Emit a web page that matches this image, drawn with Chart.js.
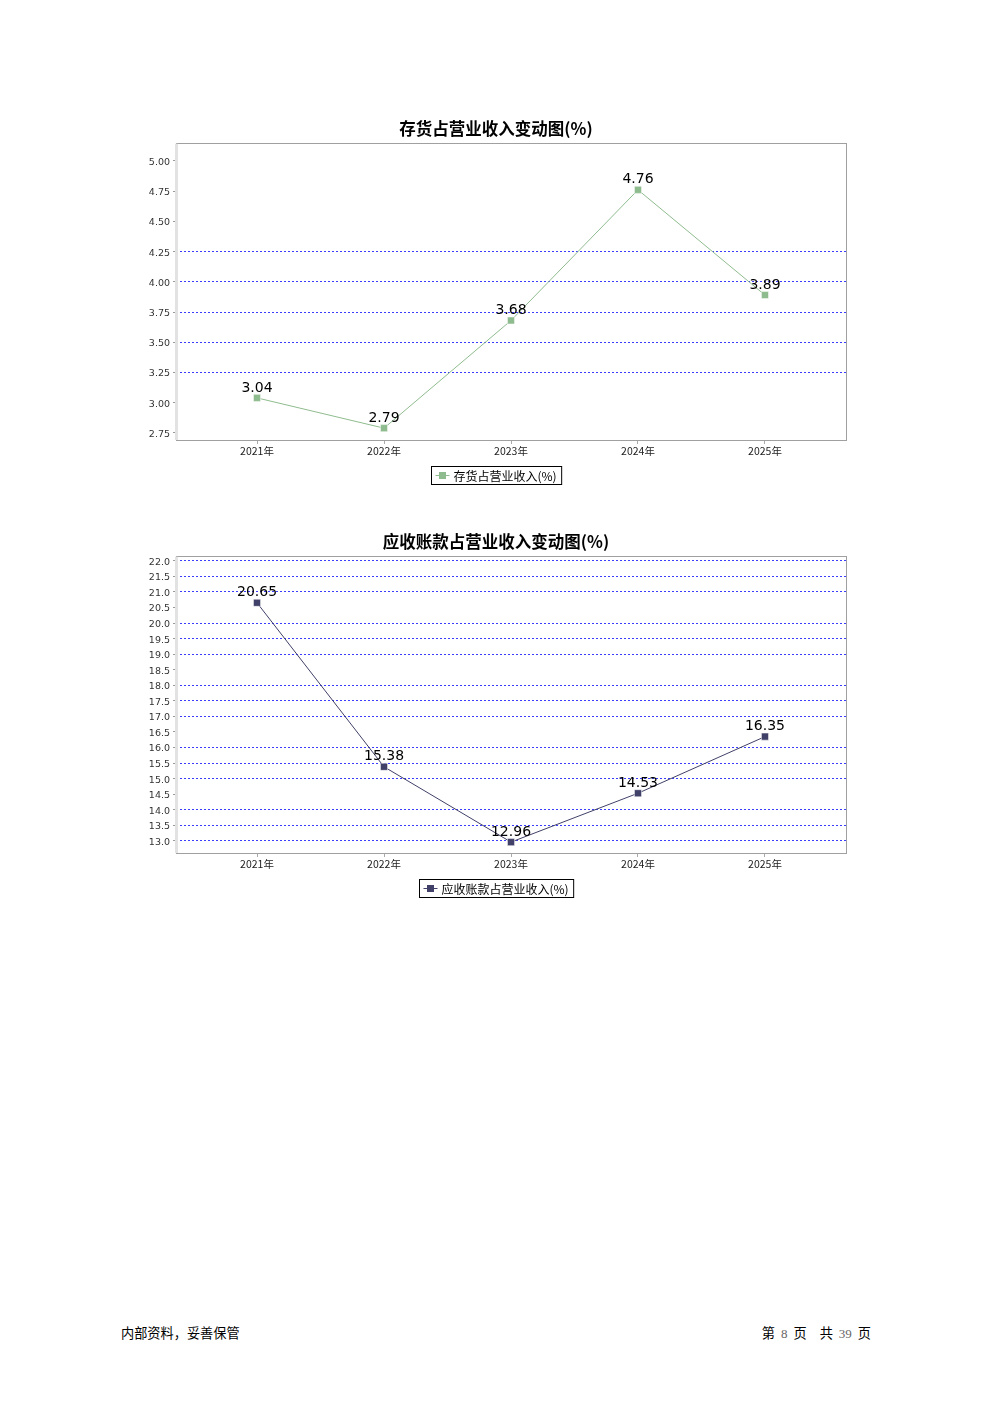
<!DOCTYPE html>
<html lang="zh-CN">
<head>
  <meta charset="UTF-8" />
  <title>存货与应收账款占营业收入变动图</title>
  <script src="https://cdn.jsdelivr.net/npm/chart.js@4"></script>
  <style>
    body {
      margin: 0;
      background: #fff;
      width: 992px;
      height: 1403px;
      position: relative;
      font-family: "Noto Sans CJK SC", sans-serif;
    }
    canvas { position: absolute; left: 146px; }
    #grafico1 { top: 109px; }
    #grafico2 { top: 522px; }
    .rodape {
      position: absolute;
      top: 1323px;
      font-size: 13.2px;
      color: #000;
    }
    #rodape-esq { left: 121px; }
    #rodape-dir { right: 121px; }
    #rodape-dir span { margin-left: 6px; }
    #rodape-dir span.largo { margin-left: 13px; }
    .num { font-family: "Liberation Serif", serif; color: #666; font-size: 13px; font-weight: normal; }
  </style>
</head>
<body>
  <canvas id="grafico1" width="716" height="386"></canvas>
  <canvas id="grafico2" width="716" height="386"></canvas>
  <div class="rodape" id="rodape-esq">内部资料，妥善保管</div>
  <div class="rodape" id="rodape-dir">第<span class="num">8</span><span>页</span><span class="largo">共</span><span class="num">39</span><span>页</span></div>
  <script>
    const anos = ['2021年', '2022年', '2023年', '2024年', '2025年'];
    const estoque = [3.04, 2.79, 3.68, 4.76, 3.89];
    const receber = [20.65, 15.38, 12.96, 14.53, 16.35];

    const CJK = '"Noto Sans CJK SC", sans-serif';
    const SANS = '"DejaVu Sans", sans-serif';

    // rotulos de valor, moldura da area e legenda com caixa
    const extras = {
      id: 'extras',
      afterDatasetsDraw(chart, args, opts) {
        const ctx = chart.ctx;
        const meta = chart.getDatasetMeta(0);
        const valores = chart.data.datasets[0].data;
        ctx.save();
        ctx.font = '14px ' + SANS;
        ctx.fillStyle = '#000';
        ctx.textAlign = 'center';
        ctx.textBaseline = 'middle';
        meta.data.forEach((p, i) => {
          ctx.fillText(valores[i].y.toFixed(2), p.x, p.y - 10);
        });
        ctx.restore();
      },
      afterDraw(chart, args, opts) {
        const ctx = chart.ctx;
        const a = chart.chartArea;
        ctx.save();
        ctx.strokeStyle = '#a0a0a0';
        ctx.lineWidth = 1;
        ctx.strokeRect(Math.round(a.left) + 0.5, Math.round(a.top) + 0.5,
          Math.round(a.right - a.left), Math.round(a.bottom - a.top));
        ctx.strokeStyle = '#e2e2e2';
        ctx.lineWidth = 3;
        ctx.beginPath();
        ctx.moveTo(Math.round(a.left) + 0.5, a.top + 1);
        ctx.lineTo(Math.round(a.left) + 0.5, a.bottom);
        ctx.stroke();

        // legenda
        ctx.font = '12px ' + CJK;
        const tw = ctx.measureText(opts.label).width;
        const w = 4 + 14 + 4 + tw + 5;
        const h = 18;
        const x = Math.round(496 - 146 - w / 2) + 0.5;
        const y = Math.round(a.bottom + 26) + 0.5;
        ctx.fillStyle = '#fff';
        ctx.fillRect(x, y, w, h);
        ctx.strokeStyle = '#000';
        ctx.lineWidth = 1;
        ctx.strokeRect(x, y, w, h);
        ctx.strokeStyle = opts.color;
        ctx.beginPath();
        ctx.moveTo(x + 4, y + h / 2);
        ctx.lineTo(x + 18, y + h / 2);
        ctx.stroke();
        ctx.fillStyle = opts.color;
        ctx.fillRect(x + 7.5, y + h / 2 - 3.5, 7, 7);
        ctx.fillStyle = '#000';
        ctx.textBaseline = 'middle';
        ctx.textAlign = 'left';
        ctx.fillText(opts.label, x + 22, y + h / 2 + 0.5);
        ctx.restore();
      }
    };

    function criarGrafico(id, cfg) {
      return new Chart(document.getElementById(id), {
        type: 'line',
        data: {
          datasets: [{
            label: cfg.legenda,
            data: cfg.valores.map((v, i) => ({ x: i, y: v })),
            borderColor: cfg.cor,
            backgroundColor: cfg.cor,
            borderWidth: 1,
            pointStyle: 'rect',
            pointRadius: 5,
            pointHoverRadius: 5,
            pointBorderWidth: 1,
            pointBorderColor: 'rgba(255,255,255,0.5)',
            tension: 0
          }]
        },
        options: {
          responsive: false,
          animation: false,
          devicePixelRatio: 1,
          layout: { padding: { left: 0, right: 16, top: 0, bottom: 33 } },
          plugins: {
            legend: { display: false },
            tooltip: { enabled: false },
            title: {
              display: true,
              text: cfg.titulo,
              color: '#000',
              font: { family: CJK, size: 16.5, weight: 'bold' },
              padding: { top: 10, bottom: 4 }
            },
            extras: { label: cfg.legenda, color: cfg.cor }
          },
          scales: {
            x: {
              type: 'linear',
              min: -0.638,
              max: 4.638,
              afterBuildTicks: s => { s.ticks = anos.map((_, i) => ({ value: i })); },
              afterFit: s => { s.height = 22; },
              grid: { drawOnChartArea: false, tickLength: 4, tickColor: '#aaa' },
              border: { display: false },
              ticks: {
                callback: v => anos[v],
                color: '#222',
                font: { family: CJK, size: 10.5 },
                padding: 1,
                maxRotation: 0,
                autoSkip: false
              }
            },
            y: {
              min: cfg.min,
              max: cfg.max,
              afterFit: s => { s.width = 30; },
              grid: {
                color: c => cfg.comGrade(c.tick.value) ? '#3c3cff' : 'rgba(0,0,0,0)',
                lineWidth: 1,
                tickLength: 3,
                tickColor: '#999'
              },
              border: { display: false, dash: [2, 2] },
              ticks: {
                stepSize: cfg.passo,
                includeBounds: false,
                callback: v => v.toFixed(cfg.casas),
                color: '#333',
                font: { family: SANS, size: 9.5 },
                padding: 3,
                labelOffset: 1.5
              }
            }
          }
        },
        plugins: [extras]
      });
    }

    criarGrafico('grafico1', {
      titulo: '存货占营业收入变动图(%)',
      legenda: '存货占营业收入(%)',
      valores: estoque,
      cor: '#8fbc8f',
      min: 2.692,
      max: 5.149,
      passo: 0.25,
      casas: 2,
      comGrade: v => v > 3.2 && v < 4.3
    });

    criarGrafico('grafico2', {
      titulo: '应收账款占营业收入变动图(%)',
      legenda: '应收账款占营业收入(%)',
      valores: receber,
      cor: '#404068',
      min: 12.61,
      max: 22.16,
      passo: 0.5,
      casas: 1,
      comGrade: v => Math.round(v * 2) % 4 !== 1
    });
  </script>
</body>
</html>
